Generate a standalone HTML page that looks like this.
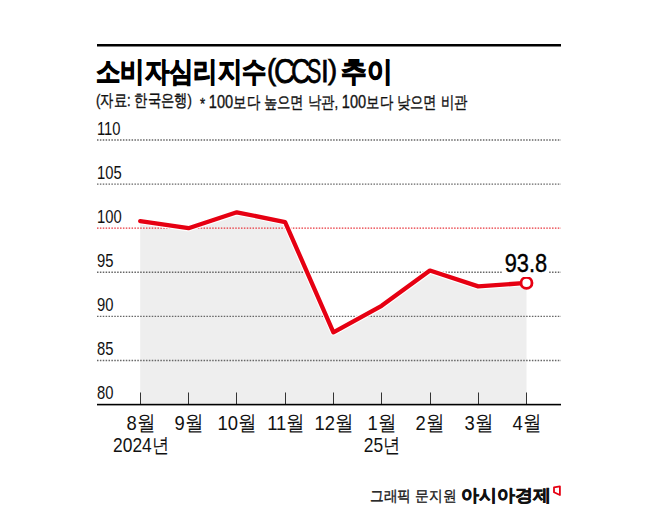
<!DOCTYPE html>
<html><head><meta charset="utf-8">
<style>
html,body{margin:0;padding:0;background:#fff;width:658px;height:526px;overflow:hidden;}
body{position:relative;font-family:"Liberation Sans",sans-serif;color:#111;}
.a{position:absolute;white-space:nowrap;line-height:1;transform-origin:0 0;}
.b{font-weight:bold;color:#000;}
.yl{left:96.6px;font-size:18.57px;transform:scaleX(0.796);color:#111;}
.xl{width:80px;text-align:center;font-size:20.2px;transform:scaleX(0.86);transform-origin:50% 0;color:#111;}
</style></head><body>
<svg class="a" style="left:0;top:0" width="658" height="526" viewBox="0 0 658 526">
 <polygon fill="#eeeeee" points="140.2,221.14 188.5,228.20 236.8,212.32 285.1,222.03 333.4,332.28 381.6,305.82 429.9,270.54 478.2,286.41 526.5,282.88 526.5,404 140.2,404"/>
 <g stroke="#666" stroke-width="1.4" stroke-dasharray="1.5 1.38" fill="none"><line x1="97" y1="140" x2="561" y2="140"/><line x1="97" y1="184.1" x2="561" y2="184.1"/><line x1="97" y1="272.3" x2="561" y2="272.3"/><line x1="97" y1="316.4" x2="561" y2="316.4"/><line x1="97" y1="360.5" x2="561" y2="360.5"/></g>
 <line x1="97" y1="228.2" x2="561" y2="228.2" stroke="#e8323a" stroke-width="1.3" stroke-dasharray="1.5 1.38"/>
 <g fill="#333"><rect x="140" y="392.5" width="1" height="11.5"/><rect x="188" y="392.5" width="1" height="11.5"/><rect x="236" y="392.5" width="1" height="11.5"/><rect x="285" y="392.5" width="1" height="11.5"/><rect x="333" y="392.5" width="1" height="11.5"/><rect x="381" y="392.5" width="1" height="11.5"/><rect x="430" y="392.5" width="1" height="11.5"/><rect x="478" y="392.5" width="1" height="11.5"/><rect x="526" y="392.5" width="1" height="11.5"/></g>
 <rect x="97" y="403.8" width="464" height="1.6" fill="#000"/>
 <polyline fill="none" stroke="#fff" stroke-width="6.5" stroke-linejoin="round" stroke-linecap="round" points="140.2,221.14 188.5,228.20 236.8,212.32 285.1,222.03 333.4,332.28 381.6,305.82 429.9,270.54 478.2,286.41 526.5,282.88"/>
 <polyline fill="none" stroke="#e60012" stroke-width="4.3" stroke-linejoin="round" stroke-linecap="round" points="140.2,221.14 188.5,228.20 236.8,212.32 285.1,222.03 333.4,332.28 381.6,305.82 429.9,270.54 478.2,286.41 526.5,282.88"/>
 <circle cx="526.5" cy="282.88" r="5.5" fill="#fff" stroke="#e60012" stroke-width="2.8"/>
 <rect x="97" y="44" width="464" height="2.5" fill="#000"/>
 <path d="M554,487.4 L559.9,486.4 L559.9,495 L554,492.3 Z" fill="none" stroke="#e60012" stroke-width="1.8" stroke-linejoin="round"/>
</svg>
<div class="a" style="left:95.8px;top:58.0px;font-size:27.95px;transform:scaleX(0.868);font-weight:bold;-webkit-text-stroke:1px #000;font-weight:bold;color:#000;">소비자심리지수</div>
<div class="a" style="left:267.0px;top:55.2px;font-size:29.56px;transform:scaleX(0.925);-webkit-text-stroke:0.75px #000;color:#000;">(</div><div class="a" style="left:273.8px;top:54.2px;font-size:34.75px;transform:scaleX(0.84);-webkit-text-stroke:0.75px #000;color:#000;">C</div><div class="a" style="left:291.0px;top:54.2px;font-size:34.75px;transform:scaleX(0.781);-webkit-text-stroke:0.75px #000;color:#000;">C</div><div class="a" style="left:307.1px;top:54.2px;font-size:34.86px;transform:scaleX(0.616);-webkit-text-stroke:0.75px #000;color:#000;">S</div><div class="a" style="left:321.2px;top:56.0px;font-size:31.07px;transform:scaleX(0.906);-webkit-text-stroke:0.75px #000;color:#000;">I</div><div class="a" style="left:328.0px;top:54.6px;font-size:28.34px;transform:scaleX(0.97);-webkit-text-stroke:0.75px #000;color:#000;">)</div>
<div class="a" style="left:340.6px;top:57.0px;font-size:28.42px;transform:scaleX(0.914);font-weight:bold;-webkit-text-stroke:1px #000;font-weight:bold;color:#000;">추이</div>
<div class="a" style="left:96.0px;top:93.1px;font-size:16.8px;transform:scaleX(0.782);-webkit-text-stroke:0.35px #111;color:#111;">(자료: 한국은행)</div>
<div class="a" style="left:199.8px;top:93.1px;font-size:16.8px;transform:scaleX(0.789);-webkit-text-stroke:0.35px #111;color:#111;"><span style="position:relative;top:0.13em">*</span> <span style="font-size:1.1em">100</span>보다 높으면 낙관, <span style="font-size:1.1em">100</span>보다 낮으면 비관</div>
<div class="a yl" style="top:119.60px">110</div>
<div class="a yl" style="top:163.60px">105</div>
<div class="a yl" style="top:207.60px">100</div>
<div class="a yl" style="top:251.60px">95</div>
<div class="a yl" style="top:295.60px">90</div>
<div class="a yl" style="top:339.60px">85</div>
<div class="a yl" style="top:383.60px">80</div>

<div class="a" style="left:505.2px;top:250.4px;font-size:26.45px;transform:scaleX(0.825);-webkit-text-stroke:0.4px #000;background:#fff;color:#000;padding:0 2px;margin-left:-2px;">93.8</div>
<div class="a xl" style="left:100.7px;top:412.5px;font-size:20.8px;transform:scaleX(0.885)">8월</div>
<div class="a xl" style="left:149.0px;top:412.5px;font-size:20.8px;transform:scaleX(0.885)">9월</div>
<div class="a xl" style="left:197.3px;top:412.5px;font-size:20.8px;transform:scaleX(0.885)">10월</div>
<div class="a xl" style="left:245.6px;top:412.5px;font-size:20.8px;transform:scaleX(0.885)">11월</div>
<div class="a xl" style="left:293.9px;top:412.5px;font-size:20.8px;transform:scaleX(0.885)">12월</div>
<div class="a xl" style="left:342.1px;top:412.5px;font-size:20.8px;transform:scaleX(0.885)">1월</div>
<div class="a xl" style="left:390.4px;top:412.5px;font-size:20.8px;transform:scaleX(0.885)">2월</div>
<div class="a xl" style="left:438.7px;top:412.5px;font-size:20.8px;transform:scaleX(0.885)">3월</div>
<div class="a xl" style="left:487.0px;top:412.5px;font-size:20.8px;transform:scaleX(0.885)">4월</div>
<div class="a xl" style="left:100.7px;top:435px">2024년</div>
<div class="a xl" style="left:342.1px;top:435px">25년</div>

<div class="a" style="left:370.2px;top:488.0px;font-size:15.44px;transform:scaleX(0.915);-webkit-text-stroke:0.35px #111;color:#222;">그래픽 문지원</div>
<div class="a" style="left:461.0px;top:487.0px;font-size:17.23px;transform:scaleX(1.058);font-weight:bold;-webkit-text-stroke:0.5px #111;font-weight:bold;color:#111;">아시아경제</div>
</body></html>
